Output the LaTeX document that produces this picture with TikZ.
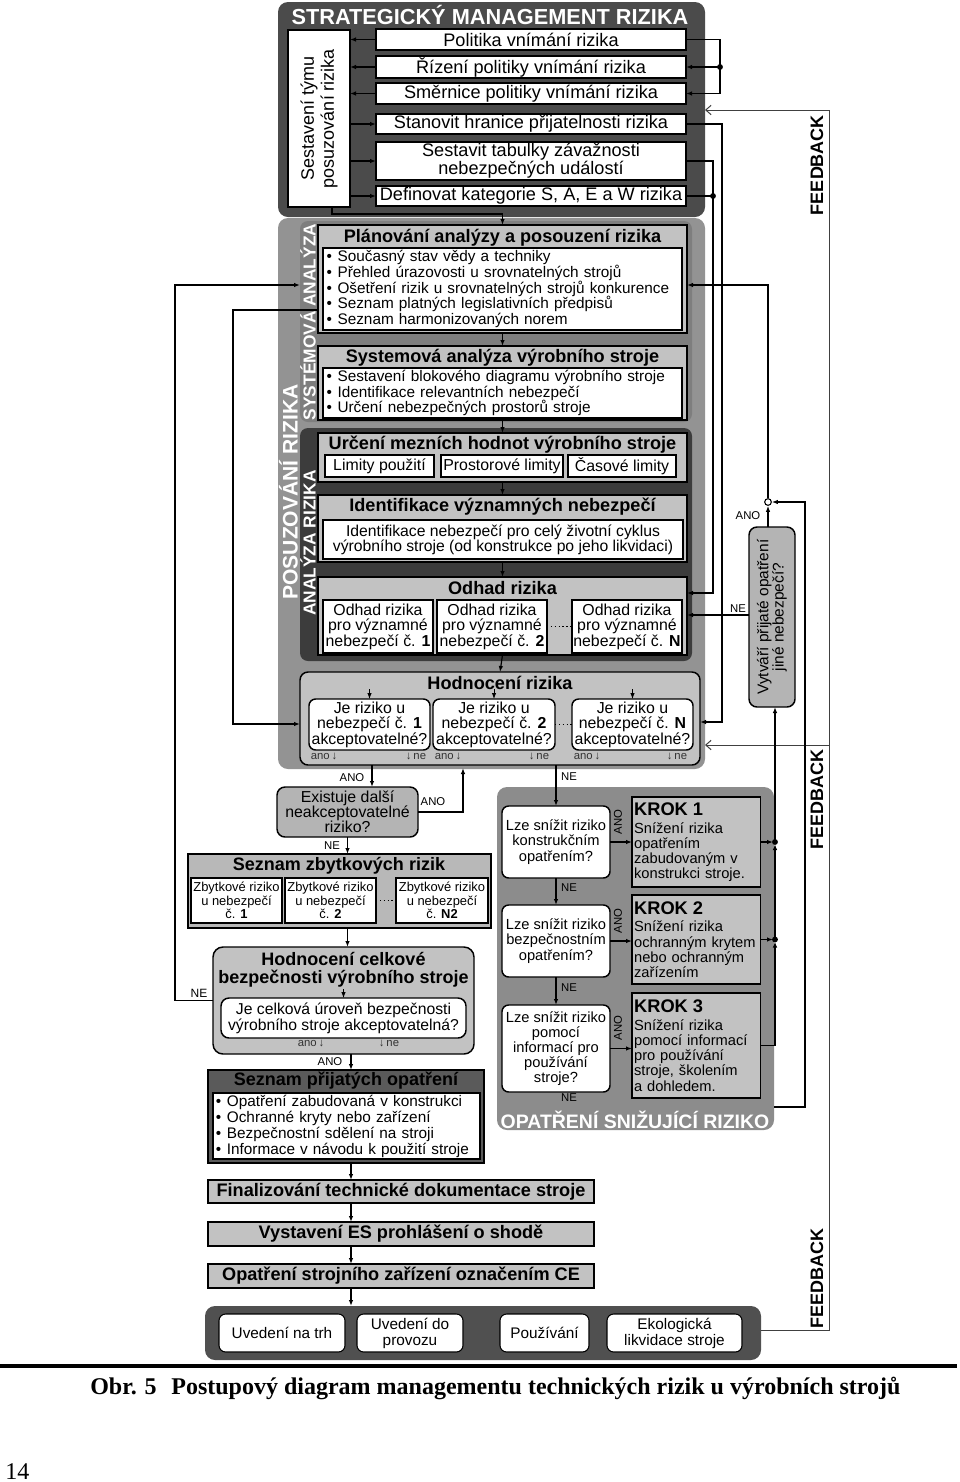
\documentclass[tikz,border=0pt]{standalone}
\usepackage{fontspec}
\setmainfont{Liberation Sans}
\newfontfamily\capfont{Liberation Serif}
\usetikzlibrary{arrows.meta}
\definecolor{dg}{HTML}{4B4B4B}
\definecolor{mg}{HTML}{939393}
\definecolor{sg}{HTML}{7E7E7E}
\definecolor{ag}{HTML}{3C3C3C}
\definecolor{lg}{HTML}{C2C2C2}
\definecolor{eg}{HTML}{B4B4B4}
\definecolor{og}{HTML}{8C8C8C}
\definecolor{pg}{HTML}{5A5A5A}
\definecolor{bg}{HTML}{505050}
\newcommand\bul{\makebox[8.3pt][l]{\textbullet}}
\newcommand\fsz[2]{\fontsize{#1}{#2}\selectfont}
\begin{document}
\begin{tikzpicture}[x=0.75pt,y=-0.75pt,
  bx/.style={inner sep=0pt, outer sep=0pt, anchor=north west, align=center, line width=1.1pt},
  wh/.style 2 args={minimum width=#1*0.75pt, minimum height=#2*0.75pt},
  wbox/.style={bx, draw=black, fill=white},
  lbox/.style={bx, draw=black, fill=lg},
  txt/.style={inner sep=0pt, outer sep=0pt, anchor=center, align=center},
  arr/.style={line width=0.9pt, -{Latex[length=4.5pt,width=3.4pt]}},
  ln/.style={line width=0.9pt},
  farr/.style={line width=0.75pt, draw=black!75, -{Straight Barb[length=4pt,width=7pt]}},
  fln/.style={line width=0.75pt, draw=black!75},
  ttl/.style={txt, font=\fsz{13.6}{13.6}\bfseries},
  sfont/.style={font=\fsz{13.6}{13.5}},
  lst/.style={wbox, align=left, inner xsep=2pt, font=\fsz{11.5}{11.8}},
  mfont/.style={font=\fsz{11.9}{11.6}},
  sm/.style={txt, font=\fsz{8.5}{8.5}},
  rot/.style={txt, rotate=90, text=white, font=\fsz{13}{13}\bfseries},
  krok/.style={bx, draw=black, fill=lg, align=left, inner xsep=1.6pt, text width=93pt, font=\fsz{11}{11.4}},
  qbox/.style={wbox, rounded corners=5pt, font=\fsz{11}{11.6}}
]
\fill[white] (0,0) rectangle (960,1482);
\useasboundingbox (0,0) rectangle (960,1482);

% ================= STRATEGIC =================
\node[bx, fill=dg, rounded corners=7.5pt, wh={427}{215}] (strat) at (278,2) {};
\node[txt, text=white, font=\fsz{16.3}{16.3}\bfseries] (stratT) at (490,15) {STRATEGICKÝ MANAGEMENT RIZIKA};
\node[wbox, wh={62}{177}] (tym) at (288,30) {};
\node[txt, rotate=90, font=\fsz{13.5}{15}] (tymT) at (tym.center) {Sestavení týmu\\posuzování rizika};
\node[wbox, sfont, wh={310}{21}] (s1) at (376,29) {Politika vnímání rizika};
\node[wbox, sfont, wh={310}{22}] (s2) at (376,56) {Řízení politiky vnímání rizika};
\node[wbox, sfont, wh={310}{21}] (s3) at (376,83) {Směrnice politiky vnímání rizika};
\node[wbox, sfont, wh={310}{20}] (s4) at (376,114) {Stanovit hranice přijatelnosti rizika};
\node[wbox, sfont, wh={310}{38}] (s5) at (376,142) {Sestavit tabulky závažnosti\\nebezpečných událostí};
\node[wbox, sfont, wh={310}{20}] (s6) at (376,186) {Definovat kategorie S, A, E a W rizika};

% ================= POSUZOVANI =================
\node[bx, fill=mg, rounded corners=7.5pt, wh={427}{551}] (posz) at (278,218) {};
\node[rot, font=\fsz{15.8}{15.8}\bfseries] (poszT) at (288.5,492) {POSUZOVÁNÍ RIZIKA};
\node[bx, fill=sg, rounded corners=6pt, wh={392}{201}] (sysp) at (300,221) {};
\node[rot] (syspT) at (308,322) {SYSTÉMOVÁ ANALÝZA};
\node[bx, fill=ag, rounded corners=6pt, wh={392}{233}] (anap) at (300,428) {};
\node[rot] (anapT) at (308,543) {ANALÝZA RIZIKA};

\node[lbox, wh={369}{108}] (plan) at (318,225) {};
\node[ttl] (planT) at (502.5,238) {Plánování analýzy a posouzení rizika};
\node[lst, wh={359}{82}, text width=264pt] (planL) at (323,248) {\bul Současný stav vědy a techniky\\\bul Přehled úrazovosti u srovnatelných strojů\\\bul Ošetření rizik u srovnatelných strojů konkurence\\\bul Seznam platných legislativních předpisů\\\bul Seznam harmonizovaných norem};

\node[lbox, wh={369}{74}] (sys) at (318,346) {};
\node[ttl] (sysT) at (502.5,358) {Systemová analýza výrobního stroje};
\node[lst, wh={359}{50}, text width=264pt] (sysL) at (323,368) {\bul Sestavení blokového diagramu výrobního stroje\\\bul Identifikace relevantních nebezpečí\\\bul Určení nebezpečných prostorů stroje};

\node[lbox, wh={369}{49}] (urc) at (318,433) {};
\node[ttl] (urcT) at (502.5,445) {Určení mezních hodnot výrobního stroje};
\node[wbox, mfont, wh={109}{22}] (urc1) at (325,455) {Limity použití};
\node[wbox, mfont, wh={122}{22}] (urc2) at (441,455) {Prostorové limity};
\node[wbox, mfont, wh={108}{22}] (urc3) at (568,455) {Časové limity};

\node[lbox, wh={369}{67}] (ide) at (318,495) {};
\node[ttl] (ideT) at (502.5,507) {Identifikace významných nebezpečí};
\node[wbox, font=\fsz{11.8}{11.4}, wh={360}{39}] (ideL) at (323,520) {Identifikace nebezpečí pro celý životní cyklus\\výrobního stroje (od konstrukce po jeho likvidaci)};

\node[lbox, wh={369}{78}] (odh) at (318,577) {};
\node[ttl] (odhT) at (502.5,588) {Odhad rizika};
\node[wbox, mfont, wh={110}{53}] (odh1) at (323,600) {Odhad rizika\\pro významné\\nebezpečí č. \textbf{1}};
\node[wbox, mfont, wh={110}{53}] (odh2) at (437,600) {Odhad rizika\\pro významné\\nebezpečí č. \textbf{2}};
\node[wbox, mfont, wh={110}{53}] (odhN) at (572,600) {Odhad rizika\\pro významné\\nebezpečí č. \textbf{N}};
\draw[ln, dotted] (odh2.east) -- (odhN.west);

\node[lbox, rounded corners=6pt, wh={400}{93}] (hod) at (300,672) {};
\node[ttl] (hodT) at (500,683) {Hodnocení rizika};
\node[wbox, mfont, rounded corners=5pt, wh={121}{51}] (hod1) at (309,699) {Je riziko u\\nebezpečí č. \textbf{1}\\akceptovatelné?};
\node[wbox, mfont, rounded corners=5pt, wh={122}{51}] (hod2) at (433,699) {Je riziko u\\nebezpečí č. \textbf{2}\\akceptovatelné?};
\node[wbox, mfont, rounded corners=5pt, wh={121}{51}] (hodN) at (572,699) {Je riziko u\\nebezpečí č. \textbf{N}\\akceptovatelné?};
\draw[ln, dotted] (hod2.east) -- (hodN.west);
\foreach \h in {hod1,hod2,hodN} \draw[arr, line width=0.7pt] (\h.north) ++(0,-10) -- (\h.north);
\node[sm, text=black!80] (a1) at (324,756) {ano\,↓};
\node[sm, text=black!80] (n1) at (416,756) {↓\,ne};
\node[sm, text=black!80] (a2) at (448,756) {ano\,↓};
\node[sm, text=black!80] (n2) at (539,756) {↓\,ne};
\node[sm, text=black!80] (a3) at (587,756) {ano\,↓};
\node[sm, text=black!80] (n3) at (677,756) {↓\,ne};

% internal arrows
\draw[arr] (plan.south) -- (sys.north);
\draw[arr] (sys.south) -- (urc.north);
\draw[arr] (urc.south) -- (ide.north);
\draw[arr] (ide.south) -- (odh.north);
\draw[arr] (odh.south) -- (hod.north);

% ================= LEFT COLUMN =================
\node[bx, draw=black, fill=eg, rounded corners=6pt, wh={141}{50}, font=\fsz{11.9}{11.3}] (exi) at (277,787) {Existuje další\\neakceptovatelné\\riziko?};
\node[bx, draw=black, fill=eg!95!white, wh={303}{74}] (zb) at (188,854) {};
\node[ttl, font=\fsz{13.5}{13.5}\bfseries] (zbT) at (339,866) {Seznam zbytkových rizik};
\node[wbox, font=\fsz{9.7}{10.1}, wh={91}{45}] (zb1) at (191,878) {Zbytkové riziko\\u nebezpečí\\č. \textbf{1}};
\node[wbox, font=\fsz{9.7}{10.1}, wh={91}{45}] (zb2) at (285,878) {Zbytkové riziko\\u nebezpečí\\č. \textbf{2}};
\node[wbox, font=\fsz{9.7}{10.1}, wh={92}{45}] (zbN) at (396,878) {Zbytkové riziko\\u nebezpečí\\č. \textbf{N2}};
\draw[ln, dotted] (zb2.east) -- (zbN.west);

\node[bx, draw=black, fill=lg, rounded corners=7.5pt, wh={261}{107}] (hc) at (213,947) {};
\node[ttl, font=\fsz{13.5}{13.3}\bfseries] (hcT) at (343.5,969.5) {Hodnocení celkové\\bezpečnosti výrobního stroje};
\node[wbox, rounded corners=6pt, font=\fsz{11.8}{12}, wh={245}{40}] (hcq) at (221,998) {Je celková úroveň bezpečnosti\\výrobního stroje akceptovatelná?};
\draw[arr, line width=0.7pt] (hcq.north) ++(0,-9) -- (hcq.north);
\node[sm, text=black!80] (a4) at (311,1043) {ano\,↓};
\node[sm, text=black!80] (n4) at (389,1043) {↓\,ne};

\node[bx, draw=black, fill=pg, wh={276}{93}] (sp) at (208,1070) {};
\node[ttl, font=\fsz{13.5}{13.5}\bfseries] (spT) at (346,1081) {Seznam přijatých opatření};
\node[lst, wh={267}{66}, text width=196pt, font=\fsz{11.5}{12}] (spL) at (213,1093) {\bul Opatření zabudovaná v konstrukci\\\bul Ochranné kryty nebo zařízení\\\bul Bezpečnostní sdělení na stroji\\\bul Informace v návodu k použití stroje};

\node[lbox, font=\fsz{13.6}{13.6}\bfseries, wh={386}{23}] (fin) at (208,1180) {Finalizování technické dokumentace stroje};
\node[lbox, font=\fsz{13.6}{13.6}\bfseries, wh={386}{24}] (ves) at (208,1222) {Vystavení ES prohlášení o shodě};
\node[lbox, font=\fsz{13.6}{13.6}\bfseries, wh={386}{24}] (oce) at (208,1264) {Opatření strojního zařízení označením CE};

\node[bx, fill=bg, rounded corners=7.5pt, wh={556}{54}] (bot) at (205,1306) {};
\node[wbox, line width=0.8pt, rounded corners=5pt, font=\fsz{11.5}{12}, wh={126}{38}] (b1) at (219,1314) {Uvedení na trh};
\node[wbox, line width=0.8pt, rounded corners=5pt, font=\fsz{11.5}{12}, wh={106}{38}] (b2) at (357,1314) {Uvedení do\\provozu};
\node[wbox, line width=0.8pt, rounded corners=5pt, font=\fsz{11.5}{12}, wh={89}{38}] (b3) at (500,1314) {Používání};
\node[wbox, line width=0.8pt, rounded corners=5pt, font=\fsz{11.5}{12}, wh={135}{38}] (b4) at (607,1314) {Ekologická\\likvidace stroje};

% ================= OPATRENI =================
\node[bx, fill=og, rounded corners=7.5pt, wh={277}{343}] (op) at (497,787) {};
\node[txt, text=white, font=\fsz{14.6}{14.6}\bfseries] (opT) at (635,1120) {OPATŘENÍ SNIŽUJÍCÍ RIZIKO};
\node[qbox, wh={108}{72}] (q1) at (502,806) {Lze snížit riziko\\konstrukčním\\opatřením?};
\node[qbox, wh={108}{72}] (q2) at (502,905) {Lze snížit riziko\\bezpečnostním\\opatřením?};
\node[qbox, wh={108}{87}, font=\fsz{11}{11.2}] (q3) at (502,1005) {Lze snížit riziko\\pomocí\\informací pro\\používání\\stroje?};
\node[krok, wh={128}{90}] (k1) at (632,797) {{\fsz{13.7}{13.7}\bfseries KROK 1}\\[2pt]Snížení rizika\\opatřením\\zabudovaným v\\konstrukci stroje.};
\node[krok, wh={128}{89}] (k2) at (632,895) {{\fsz{13.7}{13.7}\bfseries KROK 2}\\[2pt]Snížení rizika\\ochranným krytem\\nebo ochranným\\zařízením};
\node[krok, wh={128}{105}] (k3) at (632,993) {{\fsz{13.7}{13.7}\bfseries KROK 3}\\[2pt]Snížení rizika\\pomocí informací\\pro používání\\stroje, školením\\a dohledem.};
\draw[arr] (q1.east) -- (q1.east -| k1.west);
\draw[arr] (q2.east) -- (q2.east -| k2.west);
\draw[arr] (q3.east) -- (q3.east -| k3.west);
\node[sm, rotate=90] (anoq1) at (618,822) {ANO};
\node[sm, rotate=90] (anoq2) at (618,921) {ANO};
\node[sm, rotate=90] (anoq3) at (618,1028) {ANO};
\draw[arr] (q1.south) -- (q2.north);
\draw[arr] (q2.south) -- (q3.north);
\node[sm] (neq1) at (569,888) {NE};
\node[sm] (neq2) at (569,988) {NE};
\node[sm] (neq3) at (569,1098) {NE};

% ================= VYTVARI =================
\node[bx, draw=black, fill=eg, rounded corners=6pt, wh={46}{180}] (vy) at (749,527) {};
\node[txt, rotate=90, font=\fsz{11.6}{11.4}] (vyT) at (vy.center) {Vytváří přijaté opatření\\jiné nebezpečí?};
\node[circle, draw=black, fill=white, line width=0.8pt, inner sep=0pt, minimum size=5pt] (ci) at (768,502) {};
\node[sm] (anoV) at (748,516) {ANO};
\node[sm] (neV) at (738,609) {NE};

% ================= CONNECTORS =================
\foreach \s in {s1,s2,s3} \draw[arr] (\s.west) -- (\s.west -| tym.east);
\foreach \s in {s4,s5,s6} \draw[arr] (\s.west -| tym.east) -- (\s.west);
\coordinate (brT) at (720,39.5);
\coordinate (brB) at (720,93.5);
\draw[arr] (s1.east) -- (brT) -- (brB) -- (s3.east);
\draw[arr] (s2.east -| brT) -- (s2.east);
\fill (s2.east -| brT) circle[radius=2.2pt];
\coordinate (v4) at (722,722);
\draw[arr] (s4.east) -| (v4) -- (v4 -| hod.east);
\coordinate (v5) at (713,593);
\draw[arr] (s5.east) -| (v5) -- (v5 -| odh.east);
\draw[ln] (s6.east) -- (s6.east -| v5);
\fill (s6.east -| v5) circle[radius=2.2pt];
\coordinate (tb) at (332,214);
\draw[arr] (tb |- tym.south) -- (tb) -| (plan.north);

% feedback
\coordinate (fbT) at (829,110);
\coordinate (fbM) at (829,745);
\coordinate (fbB) at (829,1330);
\draw[farr] (fbT) -- (fbT -| strat.east);
\draw[farr] (fbM) -- (fbM -| posz.east);
\draw[fln] (fbT) -- (fbB) -- (fbB -| bot.east);
\node[txt, rotate=90, font=\fsz{13.5}{13.5}\bfseries] (fb1) at (817,165) {FEEDBACK};
\node[txt, rotate=90, font=\fsz{13.5}{13.5}\bfseries] (fb2) at (817,799) {FEEDBACK};
\node[txt, rotate=90, font=\fsz{13.5}{13.5}\bfseries] (fb3) at (817,1278) {FEEDBACK};

% left loops
\coordinate (L1t) at (175,285);
\draw[arr] (hc.west) -- (hc.west -| L1t) -- (L1t) -- (L1t -| sysp.west);
\node[sm, font=\fsz{9}{9}] (neL) at (199,993) {NE};
\coordinate (L2t) at (233,310);
\coordinate (L2b) at (233,724);
\draw[arr] (L2t -| plan.west) -- (L2t) -- (L2b) -- (L2b -| hod.west);

% hodnoceni outputs
\coordinate (hA) at (372,765);
\draw[arr] (hA) -- (hA |- exi.north);
\node[sm] (anoH) at (352,778) {ANO};
\coordinate (eA) at (463,768);
\draw[arr] (exi.east) -| (eA);
\node[sm] (anoE) at (433,802) {ANO};
\coordinate (hN) at (q1.north |- hod.south);
\draw[arr] (hN) -- (q1.north);
\node[sm] (neH) at (569,777) {NE};
\draw[arr] (exi.south) -- (exi.south |- zb.north);
\node[sm] (neE) at (332,846) {NE};
\draw[arr] (zb.south -| exi.south) -- (hc.north -| exi.south);
\coordinate (cx) at (351,0);
\draw[arr] (hc.south -| cx) -- (sp.north -| cx);
\node[sm] (anoC) at (330,1062) {ANO};
\draw[arr] (sp.south -| cx) -- (fin.north -| cx);
\draw[arr] (fin.south -| cx) -- (ves.north -| cx);
\draw[arr] (ves.south -| cx) -- (oce.north -| cx);
\draw[arr] (oce.south -| cx) -- (bot.north -| cx);

% krok collectors
\coordinate (kx) at (775,0);
\coordinate (d1) at (k1.east -| kx);
\coordinate (d2) at (k2.east -| kx);
\coordinate (d3) at (k3.east -| kx);
\draw[arr, shorten >=1.5pt] (k1.east) -- (d1);
\draw[arr, shorten >=1.5pt] (k2.east) -- (d2);
\draw[ln] (k3.east) -- (d3);
\draw[arr, shorten >=1.5pt] (d3) -- (d2);
\draw[arr, shorten >=1.5pt] (d2) -- (d1);
\draw[arr] (d1) -- (d1 |- vy.south);
\fill (d1) circle[radius=2.2pt];
\fill (d2) circle[radius=2.2pt];

% vytvari connectors
\draw[arr] (ci |- vy.north) -- (ci.south);
\coordinate (cU) at (768,285);
\draw[arr] (ci.north) -- (cU) -- (cU -| plan.east);
\coordinate (vN) at (749,615);
\draw[arr] (vN) -- (vN -| odh.east);
\coordinate (r8t) at (805,502);
\coordinate (r8b) at (805,1107);
\draw[arr] (r8b -| op.east) -- (r8b) -- (r8t) -- (ci.east);

% ================= CAPTION =================
\draw[line width=3pt] (0,1366) -- (957,1366);
\node[anchor=base west, inner sep=0pt, font=\capfont\fsz{18}{18}\bfseries] (cap) at (90,1394) {Obr. 5\hspace{11pt}Postupový diagram managementu technických rizik u výrobních strojů};
\node[anchor=base west, inner sep=0pt, font=\capfont\fsz{18}{18}] (pgn) at (5,1479) {14};
\end{tikzpicture}
\end{document}
